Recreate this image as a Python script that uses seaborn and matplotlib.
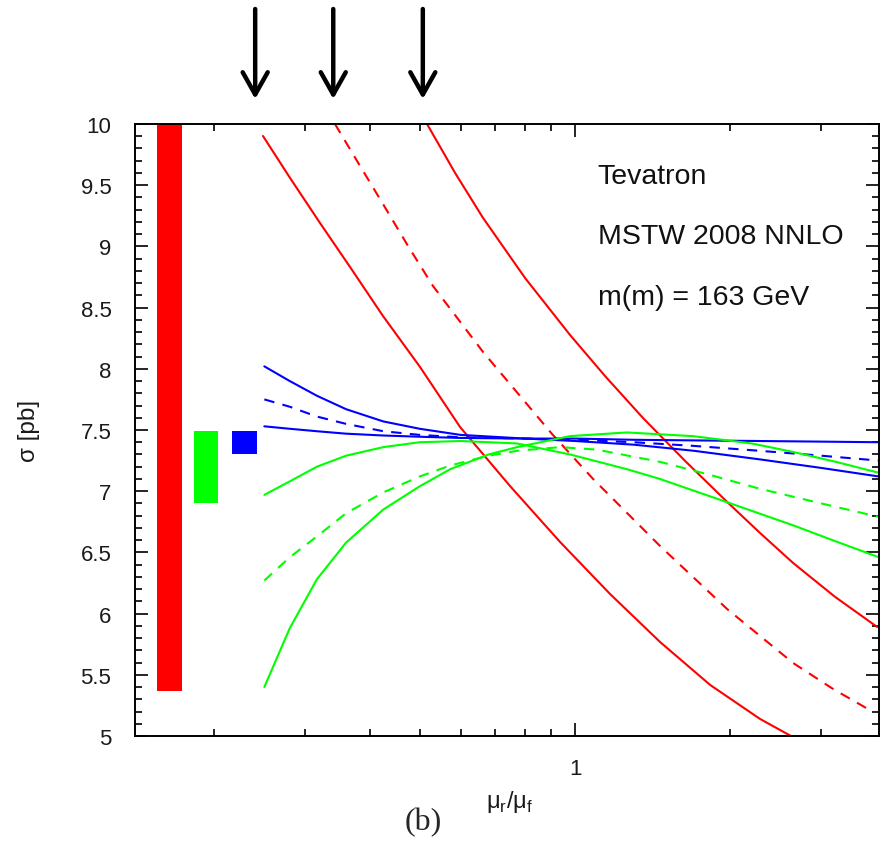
import numpy as np
import pandas as pd
import matplotlib
matplotlib.use("Agg")
import matplotlib.pyplot as plt
from matplotlib.ticker import MultipleLocator, FixedLocator, NullFormatter, FuncFormatter
import seaborn as sns

# ---------------- data ----------------
x_red1 = [0.2485, 0.2804, 0.3205, 0.3664, 0.4245, 0.5007, 0.5985, 0.7482, 0.9353,
          1.169, 1.461, 1.827, 2.283, 2.646]
y_red1 = [9.902, 9.559, 9.191, 8.832, 8.431, 8.015, 7.525, 7.042, 6.585,
          6.160, 5.768, 5.417, 5.139, 4.99]

x_red2 = [0.3426, 0.3832, 0.4245, 0.4747, 0.5306, 0.6634, 0.9025, 1.0836, 1.461,
          1.971, 2.646, 3.162, 3.780]
y_red2 = [10.0, 9.657, 9.346, 9.003, 8.676, 8.137, 7.467, 7.100, 6.552,
          6.037, 5.596, 5.384, 5.196]

x_red3 = [0.5166, 0.5855, 0.6634, 0.8000, 0.9779, 1.143, 1.354, 1.634, 1.971,
          2.283, 2.646, 3.191, 3.848]
y_red3 = [10.0, 9.600, 9.232, 8.742, 8.276, 7.941, 7.598, 7.247, 6.912,
          6.658, 6.413, 6.136, 5.891]

x_blue = [0.25, 0.28, 0.316, 0.36, 0.425, 0.5, 0.6, 0.8, 1.0, 1.3, 1.7, 2.28, 3.0, 3.88]
y_blue1 = [8.02, 7.90, 7.78, 7.67, 7.57, 7.51, 7.46, 7.43, 7.41, 7.38, 7.33, 7.26, 7.19, 7.12]
y_blue2 = [7.75, 7.69, 7.61, 7.55, 7.49, 7.46, 7.44, 7.43, 7.42, 7.40, 7.37, 7.33, 7.29, 7.25]
y_blue3 = [7.53, 7.51, 7.49, 7.47, 7.455, 7.445, 7.435, 7.43, 7.43, 7.42, 7.415, 7.41, 7.405, 7.40]

x_green1 = [0.25, 0.28, 0.316, 0.36, 0.425, 0.5, 0.6, 0.772, 0.978, 1.26, 1.46, 1.97, 2.65, 3.2, 3.88]
y_green1 = [6.97, 7.08, 7.20, 7.29, 7.36, 7.40, 7.41, 7.39, 7.30, 7.18, 7.10, 6.91, 6.72, 6.59, 6.46]

x_green2 = [0.25, 0.28, 0.316, 0.36, 0.425, 0.5, 0.573, 0.68, 0.772, 0.935, 1.1, 1.46, 1.8, 2.28, 3.0, 3.88]
y_green2 = [6.27, 6.46, 6.63, 6.82, 6.99, 7.12, 7.21, 7.29, 7.33, 7.36, 7.34, 7.24, 7.14, 7.02, 6.90, 6.79]

x_green3 = [0.25, 0.28, 0.316, 0.36, 0.425, 0.5, 0.573, 0.68, 0.772, 0.978, 1.26, 1.69, 2.2, 2.65, 3.2, 3.88]
y_green3 = [5.40, 5.88, 6.28, 6.58, 6.85, 7.04, 7.18, 7.30, 7.36, 7.45, 7.48, 7.45, 7.39, 7.32, 7.24, 7.15]

# bands on the left: (x_left, x_right, y_low, y_high)
band_names = ["red", "green", "blue"]
band_x_left = [0.1546, 0.1829, 0.2167]
band_x_right = [0.1733, 0.2035, 0.2415]
band_y_low = [5.37, 6.90, 7.30]
band_y_high = [10.0, 7.49, 7.49]

arrow_x = [0.24, 0.34, 0.507]

y_ticks = [5, 5.5, 6, 6.5, 7, 7.5, 8, 8.5, 9, 9.5, 10]
annot_lines = ["Tevatron", "MSTW 2008 NNLO", "m(m) = 163 GeV"]

# ---------------- styling ----------------
sns.set_style("ticks")
plt.rcParams["font.family"] = ["Liberation Sans", "DejaVu Sans"]
plt.rcParams["mathtext.fontset"] = "custom"
plt.rcParams["mathtext.rm"] = "Liberation Sans"

RED, GREEN, BLUE = "#ff0000", "#00ff00", "#0000ff"

fig = plt.figure(figsize=(8.8, 8.45), dpi=100)
W, H = 880, 845
L, R, B, T = 135, 879, 737, 125
ax = fig.add_axes([L / W, (H - B) / H, (R - L) / W, (B - T) / H])
ax.set_xscale("log")
ax.set_xlim(0.1404, 3.88)
ax.set_ylim(5, 10)

# bands
band_colors = {"red": RED, "green": GREEN, "blue": BLUE}
for n, xl, xr, yl, yh in zip(band_names, band_x_left, band_x_right, band_y_low, band_y_high):
    ax.bar(xl, yh - yl, bottom=yl, width=xr - xl, align="edge",
           color=band_colors[n], edgecolor="none", zorder=2)

lw = 1.5
dash = (5, 4)
curves = [
    (x_red1, y_red1, RED, False),
    (x_red2, y_red2, RED, True),
    (x_red3, y_red3, RED, False),
    (x_blue, y_blue1, BLUE, False),
    (x_blue, y_blue2, BLUE, True),
    (x_blue, y_blue3, BLUE, False),
    (x_green1, y_green1, GREEN, False),
    (x_green2, y_green2, GREEN, True),
    (x_green3, y_green3, GREEN, False),
]
for xs, ys, c, dashed in curves:
    df = pd.DataFrame({"x": xs, "y": ys})
    line = sns.lineplot(data=df, x="x", y="y", color=c, linewidth=lw, ax=ax,
                        sort=False, estimator=None)
    if dashed:
        line.get_lines()[-1].set_dashes(dash)

# axes styling
for s in ax.spines.values():
    s.set_linewidth(1.4)
    s.set_color("black")
    s.set_visible(True)
ax.yaxis.set_major_locator(FixedLocator(y_ticks))
ax.yaxis.set_minor_locator(MultipleLocator(0.1))
ax.yaxis.set_major_formatter(FuncFormatter(lambda v, p: f"{v:g}"))
ax.xaxis.set_major_locator(FixedLocator([1.0]))
ax.xaxis.set_major_formatter(FuncFormatter(lambda v, p: f"{v:g}"))
ax.xaxis.set_minor_locator(FixedLocator([0.2, 0.3, 0.4, 0.5, 0.6, 0.7, 0.8, 0.9, 2, 3]))
ax.xaxis.set_minor_formatter(NullFormatter())
ax.tick_params(which="both", direction="in", top=True, right=True, width=1.2, color="black")
ax.tick_params(which="major", length=9.5, labelsize=16, pad=16, labelcolor="#1a1a1a")
ax.tick_params(which="minor", length=5)
ax.tick_params(axis="y", which="major", pad=17)

ax.set_xlabel("μ$_\\mathregular{r}$/μ$_\\mathregular{f}$", fontsize=17, color="#1a1a1a")
ax.xaxis.set_label_coords(0.504, -0.085)
ax.set_ylabel("σ [pb]", fontsize=17.5, color="#1a1a1a")
ax.yaxis.set_label_coords(-0.128, 0.5)

for i, (t, yy) in enumerate(zip(annot_lines, [177, 237, 298])):
    ax.text(0.622, (B - yy) / (B - T), t, transform=ax.transAxes, ha="left", va="center",
            fontsize=20.5, color="#111111")

fig.text(423 / W, 1 - 823 / H, "(b)", ha="center", va="center", fontsize=23,
         family=["Liberation Serif", "DejaVu Serif"])

for xa in arrow_x:
    ax.annotate("", xy=(xa, H - 100), xytext=(xa, H - 10), xycoords=("data", "figure pixels"),
                textcoords=("data", "figure pixels"), annotation_clip=False,
                arrowprops=dict(arrowstyle="->,head_length=1.6,head_width=0.9",
                                lw=3.2, color="black", shrinkA=0, shrinkB=0,
                                mutation_scale=10))

fig.savefig("out.png", dpi=100)
